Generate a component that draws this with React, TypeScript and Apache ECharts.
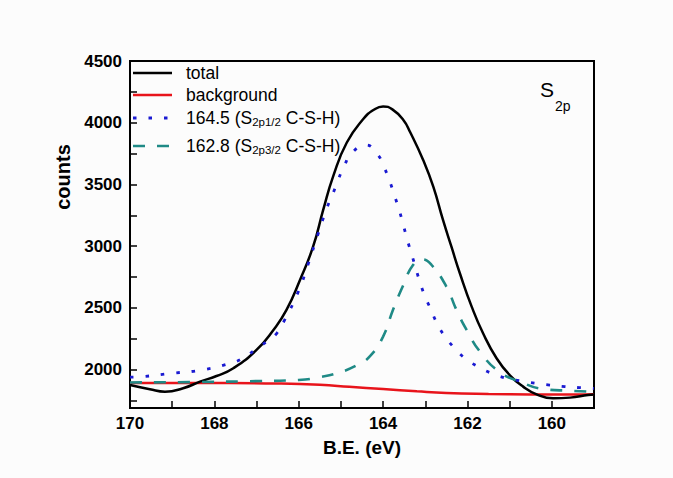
import React, { useEffect, useRef } from "react";
import * as echarts from "echarts";

// ---- axis ticks / labels ----
const xTickValues = [160, 161, 162, 163, 164, 165, 166, 167, 168, 169, 170];
const xLabelValues = [160, 162, 164, 166, 168, 170];
const yTickValues = [1750, 2000, 2250, 2500, 2750, 3000, 3250, 3500, 3750, 4000, 4250, 4500];
const yLabelValues = [2000, 2500, 3000, 3500, 4000, 4500];

// ---- series: total ----
const totalX = [170, 169.53, 169.17, 168.74, 168.34, 167.95, 167.55, 167.0, 166.6, 166.29, 165.97, 165.66, 165.42, 165.18, 164.86, 164.47, 164.22, 164.0, 163.78, 163.52, 163.36, 163.05, 162.81, 162.58, 162.38, 162.18, 161.9, 161.63, 161.31, 161.0, 160.68, 160.36, 159.97, 159.57, 159.14, 159.0];
const totalY = [1876, 1842, 1822, 1850, 1903, 1949, 2012, 2160, 2322, 2484, 2727, 2996, 3294, 3570, 3840, 4030, 4105, 4132, 4108, 4022, 3925, 3698, 3482, 3213, 2996, 2781, 2511, 2295, 2093, 1957, 1863, 1801, 1769, 1774, 1796, 1800];

// ---- series: background ----
const bgX = [170, 168, 166.5, 165.5, 164.8, 164.0, 163.2, 162.5, 161.5, 160.5, 159.5, 159.0];
const bgY = [1893, 1892, 1888, 1878, 1862, 1843, 1825, 1812, 1804, 1800, 1799, 1802];

// ---- series: 164.5 (S2p1/2) ----
const p1X = [170, 169.72, 169.01, 168.3, 167.63, 167.32, 167.04, 166.76, 166.52, 166.33, 166.01, 165.77, 165.55, 165.32, 165.18, 165.06, 164.91, 164.75, 164.41, 164.14, 163.97, 163.84, 163.72, 163.62, 163.52, 163.43, 163.33, 163.13, 163.01, 162.87, 162.73, 162.56, 162.34, 162.06, 161.75, 161.43, 161.09, 160.76, 160.4, 160.05, 159.69, 159.35, 159.0];
const p1Y = [1940, 1944, 1971, 1998, 2052, 2093, 2160, 2227, 2295, 2405, 2632, 2862, 3091, 3320, 3434, 3542, 3658, 3753, 3820, 3747, 3636, 3523, 3401, 3294, 3172, 3056, 2943, 2713, 2597, 2489, 2381, 2281, 2187, 2093, 2025, 1971, 1932, 1911, 1890, 1876, 1863, 1855, 1848];

// ---- series: 162.8 (S2p3/2) ----
const p2X = [170, 168.5, 167.16, 166.0, 165.5, 165.06, 164.6, 164.31, 164.0, 163.76, 163.52, 163.29, 163.07, 162.85, 162.5, 162.26, 162.02, 161.69, 161.27, 160.76, 160.17, 159.57, 159.0];
const p2Y = [1897, 1900, 1907, 1917, 1940, 1975, 2040, 2110, 2268, 2490, 2686, 2848, 2894, 2848, 2673, 2484, 2322, 2140, 1990, 1903, 1842, 1830, 1820];

const seriesNames = ["total", "background", "164.5 (S2p1/2 C-S-H)", "162.8 (S2p3/2 C-S-H)"];
const colors = ["#000000", "#e8141b", "#1a1ad2", "#1f8a86"];

const FONT = "'Liberation Sans', Arial, Helvetica, sans-serif";

const zip = (xs: number[], ys: number[]) => xs.map((x, i) => [x, ys[i]]);

export default function App() {
  const ref = useRef<HTMLDivElement>(null);

  useEffect(() => {
    if (!ref.current) return;
    const chart = echarts.init(ref.current, undefined, { renderer: "svg" });

    const legendX1 = 133;
    const legendX2 = 172;
    const textX = 186;
    const rows = [73, 95, 118, 146];
    const legendText = [
      "total",
      "background",
      "{n|164.5 (S}{s|2p1/2}{n| C-S-H)}",
      "{n|162.8 (S}{s|2p3/2}{n| C-S-H)}",
    ];
    const dashes: any[] = [null, null, [3.5, 12], [12, 12]];
    const widths = [2.5, 2.5, 2.8, 2.6];

    const rich = {
      n: { fontSize: 17.5, lineHeight: 20, fontFamily: FONT, fill: "#000" },
      s: { fontSize: 11.5, lineHeight: 16, verticalAlign: "bottom", fontFamily: FONT, fill: "#000" },
    };

    const graphics: any[] = [];
    rows.forEach((y, i) => {
      graphics.push({
        type: "line",
        shape: { x1: legendX1, y1: y, x2: legendX2, y2: y },
        style: { stroke: colors[i], lineWidth: widths[i], lineDash: dashes[i] || undefined },
        z: 100,
      });
      graphics.push({
        type: "text",
        x: textX,
        y: y,
        style: {
          text: legendText[i],
          fontSize: 17.5,
          fontFamily: FONT,
          fill: "#000",
          verticalAlign: "middle",
          align: "left",
          rich: i >= 2 ? rich : undefined,
        },
        z: 100,
      });
    });

    graphics.push({
      type: "text",
      x: 540,
      y: 89,
      style: { text: "S", fontSize: 21, fontFamily: FONT, fill: "#000", verticalAlign: "middle", align: "left" },
      z: 100,
    });
    graphics.push({
      type: "text",
      x: 555,
      y: 106,
      style: { text: "2p", fontSize: 14, fontFamily: FONT, fill: "#000", verticalAlign: "middle", align: "left" },
      z: 100,
    });
    graphics.push({
      type: "text",
      x: 63,
      y: 177,
      rotation: Math.PI / 2,
      style: {
        text: "counts",
        fontSize: 20,
        fontWeight: "bold",
        fontFamily: FONT,
        fill: "#000",
        align: "center",
        verticalAlign: "middle",
      },
      z: 100,
    });

    const mkSeries = (name: string, data: number[][], color: string, width: number, type: any, z: number) => ({
      name,
      type: "line",
      data,
      smooth: 0.5,
      showSymbol: false,
      symbol: "none",
      lineStyle: { color, width, type, cap: "butt" },
      z,
    });

    chart.setOption({
      animation: false,
      backgroundColor: "#fcfcfc",
      grid: {
        left: 130,
        right: 79,
        top: 61,
        bottom: 70,
        show: true,
        borderColor: "#000",
        borderWidth: 2,
        backgroundColor: "transparent",
        containLabel: false,
        outerBoundsMode: "none",
      },
      xAxis: {
        type: "value",
        min: 159,
        max: 170,
        inverse: true,
        name: "B.E. (eV)",
        nameLocation: "middle",
        nameGap: 30,
        nameTextStyle: { fontSize: 19, fontWeight: "bold", fontFamily: FONT, color: "#000" },
        axisLine: { show: true, lineStyle: { color: "#000", width: 2 } },
        axisTick: {
          show: true,
          inside: true,
          length: 7,
          customValues: xTickValues,
          lineStyle: { color: "#000", width: 1.5 },
        },
        axisLabel: {
          customValues: xLabelValues,
          formatter: (v: number) => String(v),
          fontSize: 17,
          fontWeight: "bold",
          fontFamily: FONT,
          color: "#000",
          margin: 7,
        },
        splitLine: { show: false },
      },
      yAxis: {
        type: "value",
        min: 1690,
        max: 4500,
        axisLine: { show: true, lineStyle: { color: "#000", width: 2 } },
        axisTick: {
          show: true,
          inside: true,
          length: 7,
          customValues: yTickValues,
          lineStyle: { color: "#000", width: 1.5 },
        },
        axisLabel: {
          customValues: yLabelValues,
          formatter: (v: number) => String(v),
          fontSize: 17,
          fontWeight: "bold",
          fontFamily: FONT,
          color: "#000",
          margin: 8,
        },
        splitLine: { show: false },
      },
      series: [
        mkSeries(seriesNames[0], zip(totalX, totalY), colors[0], 2.5, "solid", 4),
        mkSeries(seriesNames[1], zip(bgX, bgY), colors[1], 2.5, "solid", 3),
        mkSeries(seriesNames[2], zip(p1X, p1Y), colors[2], 2.8, [3.5, 12], 5),
        mkSeries(seriesNames[3], zip(p2X, p2Y), colors[3], 2.6, [12, 12], 5),
      ],
      graphic: { elements: graphics },
    });

    return () => chart.dispose();
  }, []);

  return (
    <div
      ref={ref}
      style={{ position: "fixed", left: 0, top: 0, width: 673, height: 478 }}
    />
  );
}
